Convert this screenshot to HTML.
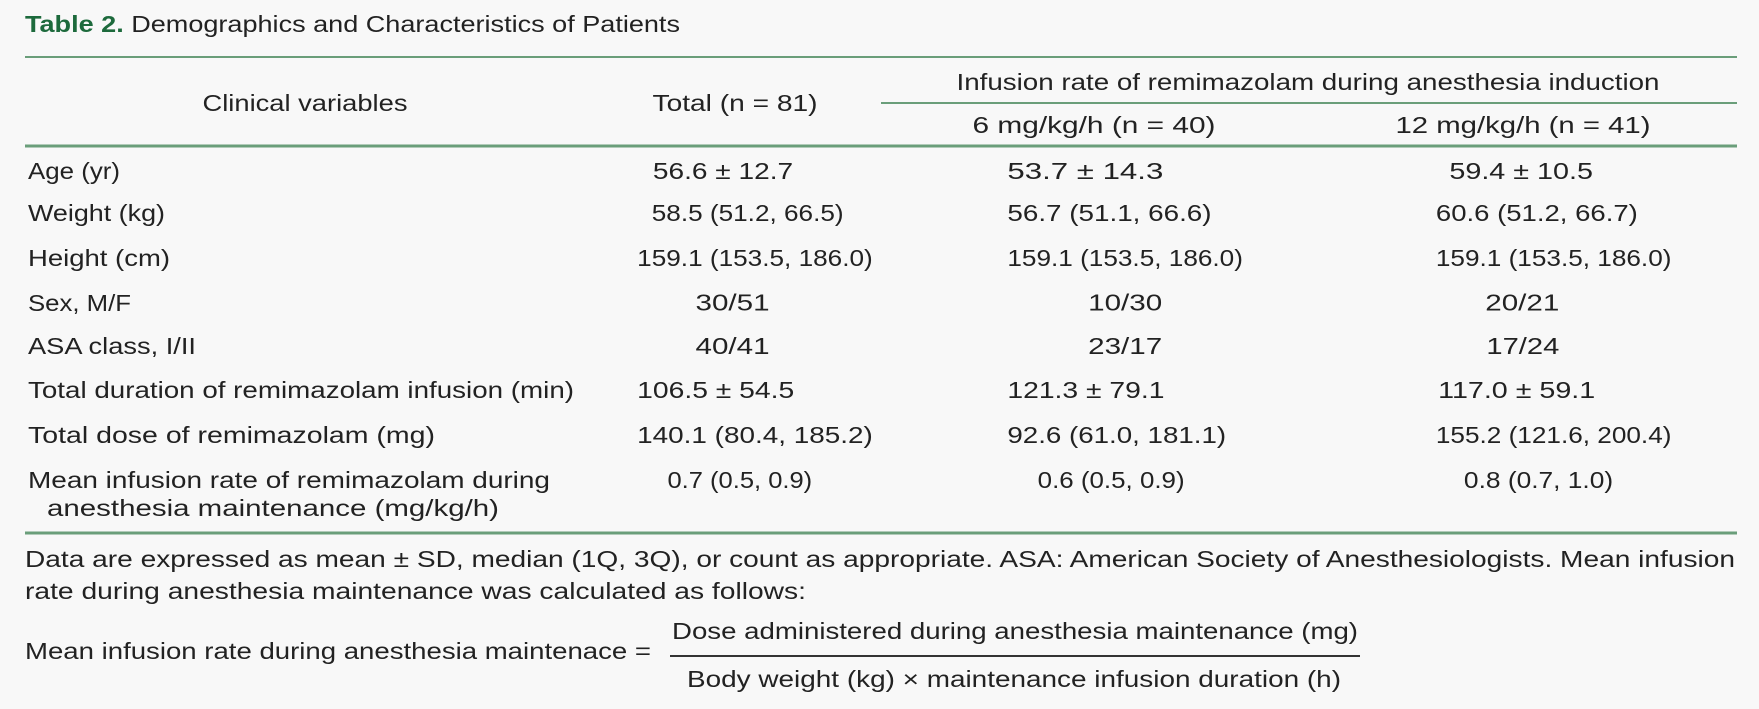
<!DOCTYPE html>
<html><head><meta charset="utf-8"><style>
html,body{margin:0;padding:0;background:#f8f8f8;}
svg{display:block;}
text{font-family:"Liberation Sans",sans-serif;fill:#222;font-size:23px;}
.c{text-anchor:middle;}
.v text{font-size:20.5px;}
</style></head><body>
<svg width="1759" height="709" viewBox="0 0 1759 709">
<rect width="1759" height="709" fill="#f8f8f8"/>
<text x="25" y="32" font-size="23" textLength="655" lengthAdjust="spacingAndGlyphs"><tspan font-weight="bold" fill="#1d6a3c" style="fill:#1d6a3c">Table 2.</tspan> Demographics and Characteristics of Patients</text>
<line x1="25" y1="57" x2="1737" y2="57" stroke="#6a9e7a" stroke-width="2"/>
<text class="c" x="305" y="111" textLength="205" lengthAdjust="spacingAndGlyphs">Clinical variables</text>
<text class="c" x="735" y="111" textLength="165" lengthAdjust="spacingAndGlyphs">Total (n = 81)</text>
<text class="c" x="1308" y="90" textLength="703" lengthAdjust="spacingAndGlyphs">Infusion rate of remimazolam during anesthesia induction</text>
<line x1="881" y1="103" x2="1737" y2="103" stroke="#6a9e7a" stroke-width="2"/>
<text class="c" x="1094" y="133" textLength="243" lengthAdjust="spacingAndGlyphs">6 mg/kg/h (n = 40)</text>
<text class="c" x="1523" y="133" textLength="255" lengthAdjust="spacingAndGlyphs">12 mg/kg/h (n = 41)</text>
<line x1="25" y1="146" x2="1737" y2="146" stroke="#6a9e7a" stroke-width="3"/>

<g>
<text x="28" y="179" textLength="92" lengthAdjust="spacingAndGlyphs">Age (yr)</text>
<text x="28" y="221" textLength="137" lengthAdjust="spacingAndGlyphs">Weight (kg)</text>
<text x="28" y="266" textLength="142" lengthAdjust="spacingAndGlyphs">Height (cm)</text>
<text x="28" y="311" textLength="103" lengthAdjust="spacingAndGlyphs">Sex, M/F</text>
<text x="28" y="354" textLength="168" lengthAdjust="spacingAndGlyphs">ASA class, I/II</text>
<text x="28" y="398" textLength="546" lengthAdjust="spacingAndGlyphs">Total duration of remimazolam infusion (min)</text>
<text x="28" y="443" textLength="407" lengthAdjust="spacingAndGlyphs">Total dose of remimazolam (mg)</text>
<text x="28" y="488" textLength="522" lengthAdjust="spacingAndGlyphs">Mean infusion rate of remimazolam during</text>
<text x="47" y="516" textLength="452" lengthAdjust="spacingAndGlyphs">anesthesia maintenance (mg/kg/h)</text>
</g>
<g class="v" transform="scale(1.1218)">
<text x="582" y="159.5" textLength="125" lengthAdjust="spacingAndGlyphs">56.6 ± 12.7</text>
<text x="581" y="197" textLength="171" lengthAdjust="spacingAndGlyphs">58.5 (51.2, 66.5)</text>
<text x="568" y="237" textLength="210" lengthAdjust="spacingAndGlyphs">159.1 (153.5, 186.0)</text>
<text x="620" y="277" textLength="66" lengthAdjust="spacingAndGlyphs">30/51</text>
<text x="620" y="315.5" textLength="66" lengthAdjust="spacingAndGlyphs">40/41</text>
<text x="568" y="355" textLength="140" lengthAdjust="spacingAndGlyphs">106.5 ± 54.5</text>
<text x="568" y="395" textLength="210" lengthAdjust="spacingAndGlyphs">140.1 (80.4, 185.2)</text>
<text x="595" y="435" textLength="129" lengthAdjust="spacingAndGlyphs">0.7 (0.5, 0.9)</text>

<text x="898" y="159.5" textLength="139" lengthAdjust="spacingAndGlyphs">53.7 ± 14.3</text>
<text x="898" y="197" textLength="182" lengthAdjust="spacingAndGlyphs">56.7 (51.1, 66.6)</text>
<text x="898" y="237" textLength="210" lengthAdjust="spacingAndGlyphs">159.1 (153.5, 186.0)</text>
<text x="970" y="277" textLength="66" lengthAdjust="spacingAndGlyphs">10/30</text>
<text x="970" y="315.5" textLength="66" lengthAdjust="spacingAndGlyphs">23/17</text>
<text x="898" y="355" textLength="140" lengthAdjust="spacingAndGlyphs">121.3 ± 79.1</text>
<text x="898" y="395" textLength="195" lengthAdjust="spacingAndGlyphs">92.6 (61.0, 181.1)</text>
<text x="925" y="435" textLength="131" lengthAdjust="spacingAndGlyphs">0.6 (0.5, 0.9)</text>

<text x="1292" y="159.5" textLength="128" lengthAdjust="spacingAndGlyphs">59.4 ± 10.5</text>
<text x="1280" y="197" textLength="180" lengthAdjust="spacingAndGlyphs">60.6 (51.2, 66.7)</text>
<text x="1280" y="237" textLength="210" lengthAdjust="spacingAndGlyphs">159.1 (153.5, 186.0)</text>
<text x="1324" y="277" textLength="66" lengthAdjust="spacingAndGlyphs">20/21</text>
<text x="1325" y="315.5" textLength="65" lengthAdjust="spacingAndGlyphs">17/24</text>
<text x="1282" y="355" textLength="140" lengthAdjust="spacingAndGlyphs">117.0 ± 59.1</text>
<text x="1280" y="395" textLength="210" lengthAdjust="spacingAndGlyphs">155.2 (121.6, 200.4)</text>
<text x="1305" y="435" textLength="133" lengthAdjust="spacingAndGlyphs">0.8 (0.7, 1.0)</text>
</g>
<line x1="25" y1="533" x2="1737" y2="533" stroke="#6a9e7a" stroke-width="3"/>

<text x="25" y="567" textLength="1710" lengthAdjust="spacingAndGlyphs">Data are expressed as mean ± SD, median (1Q, 3Q), or count as appropriate. ASA: American Society of Anesthesiologists. Mean infusion</text>
<text x="25" y="599" textLength="781" lengthAdjust="spacingAndGlyphs">rate during anesthesia maintenance was calculated as follows:</text>
<text x="25" y="659" textLength="626" lengthAdjust="spacingAndGlyphs">Mean infusion rate during anesthesia maintenace =</text>
<text x="672" y="639" textLength="686" lengthAdjust="spacingAndGlyphs">Dose administered during anesthesia maintenance (mg)</text>
<line x1="670" y1="656" x2="1360" y2="656" stroke="#333" stroke-width="2"/>
<text x="687" y="687" textLength="654" lengthAdjust="spacingAndGlyphs">Body weight (kg) × maintenance infusion duration (h)</text>
</svg>
</body></html>
